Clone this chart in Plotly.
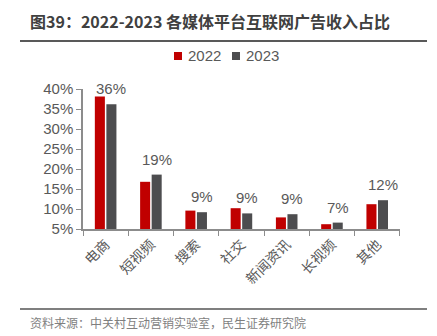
import plotly.graph_objects as go

# 各媒体平台互联网广告收入占比（%）
categories = ["电商", "短视频", "搜索", "社交", "新闻资讯", "长视频", "其他"]
share_2022 = [38.1, 16.8, 9.6, 10.2, 7.9, 6.2, 11.2]
share_2023 = [36.2, 18.6, 9.2, 8.9, 8.7, 6.6, 12.2]
series_names = ["2022", "2023"]
y_ticks = [5, 10, 15, 20, 25, 30, 35, 40]
y_tick_labels = [f"{v}%" for v in y_ticks]

RED = "#C00000"
GREY = "#4D4D4F"
TEXT = "#595959"
AXIS = "#8C8C8C"
NUM_FONT = "Liberation Sans, Arial, Noto Sans CJK SC"
CJK_FONT = "Noto Sans CJK SC"

BARGAP, GROUPGAP = 0.49, 0.13

fig = go.Figure()
fig.add_trace(go.Bar(
    x=categories, y=share_2022, name=series_names[0],
    marker=dict(color=RED, line=dict(width=0)),
))
fig.add_trace(go.Bar(
    x=categories, y=share_2023, name=series_names[1],
    marker=dict(color=GREY, line=dict(width=0)),
))

# plot area: x 83..400 px, y 89..229 px
L, R, T, B = 83, 400, 89, 229
W, H = 437, 336
pw, ph = R - L, B - T


def px_x(p):
    return (p - L) / pw


def px_y(p):
    return (B - p) / ph


# horizontal offset (px) from category centre to the 2023 bar centre
slot = pw / len(categories) * (1 - BARGAP) / 2
offset_2023 = slot / 2

shapes = [
    # rule under the title
    dict(type="line", xref="paper", yref="paper",
         x0=px_x(20), x1=px_x(427), y0=px_y(41), y1=px_y(41),
         line=dict(color="#595959", width=2)),
    # rule above the source note
    dict(type="line", xref="paper", yref="paper",
         x0=px_x(20), x1=px_x(427), y0=px_y(309), y1=px_y(309),
         line=dict(color="#7F7F7F", width=2)),
    # legend swatches
    dict(type="rect", xref="paper", yref="paper",
         x0=px_x(174), x1=px_x(182), y0=px_y(60), y1=px_y(52),
         fillcolor=RED, line=dict(width=0)),
    dict(type="rect", xref="paper", yref="paper",
         x0=px_x(232), x1=px_x(240), y0=px_y(60), y1=px_y(52),
         fillcolor=GREY, line=dict(width=0)),
]

annotations = [
    dict(text="<b>图39：2022-2023 各媒体平台互联网广告收入占比</b>",
         xref="paper", yref="paper", x=px_x(28), y=px_y(21),
         xanchor="left", yanchor="middle", showarrow=False,
         font=dict(family=CJK_FONT, size=16, color="#404040")),
    dict(text="资料来源：中关村互动营销实验室，民生证券研究院",
         xref="paper", yref="paper", x=px_x(28), y=px_y(322),
         xanchor="left", yanchor="middle", showarrow=False,
         font=dict(family=CJK_FONT, size=12, color="#7F7F7F")),
    dict(text=series_names[0], xref="paper", yref="paper",
         x=px_x(186), y=px_y(56), xanchor="left", yanchor="middle",
         showarrow=False, font=dict(family=NUM_FONT, size=15, color=TEXT)),
    dict(text=series_names[1], xref="paper", yref="paper",
         x=px_x(244), y=px_y(56), xanchor="left", yanchor="middle",
         showarrow=False, font=dict(family=NUM_FONT, size=15, color=TEXT)),
]

# value labels above the 2023 bars
for cat, val in zip(categories, share_2023):
    annotations.append(dict(
        text=f"{val:.0f}%", x=cat, y=val, xref="x", yref="y",
        xanchor="center", yanchor="bottom", xshift=offset_2023, yshift=5,
        showarrow=False, font=dict(family=NUM_FONT, size=15, color=TEXT),
    ))

fig.update_layout(
    width=W, height=H,
    margin=dict(l=L, r=W - R, t=T, b=H - B, pad=0),
    paper_bgcolor="white", plot_bgcolor="white",
    barmode="group", bargap=BARGAP, bargroupgap=GROUPGAP,
    showlegend=False,
    shapes=shapes, annotations=annotations,
    font=dict(family=NUM_FONT, color=TEXT),
)

fig.update_xaxes(
    type="category",
    showline=True, linecolor=AXIS, linewidth=1.5,
    ticks="outside", tickson="boundaries", ticklen=5, tickcolor=AXIS,
    tickangle=-45,
    tickfont=dict(family=CJK_FONT, size=14, color=TEXT),
    showgrid=False, zeroline=False,
)
fig.update_yaxes(
    range=[5, 40], tickmode="array", tickvals=y_ticks, ticktext=y_tick_labels,
    showline=True, linecolor=AXIS, linewidth=1.5,
    ticks="outside", ticklen=5, tickcolor=AXIS,
    tickfont=dict(family=NUM_FONT, size=15, color=TEXT),
    showgrid=False, zeroline=False,
)

fig.write_html("out.html")
